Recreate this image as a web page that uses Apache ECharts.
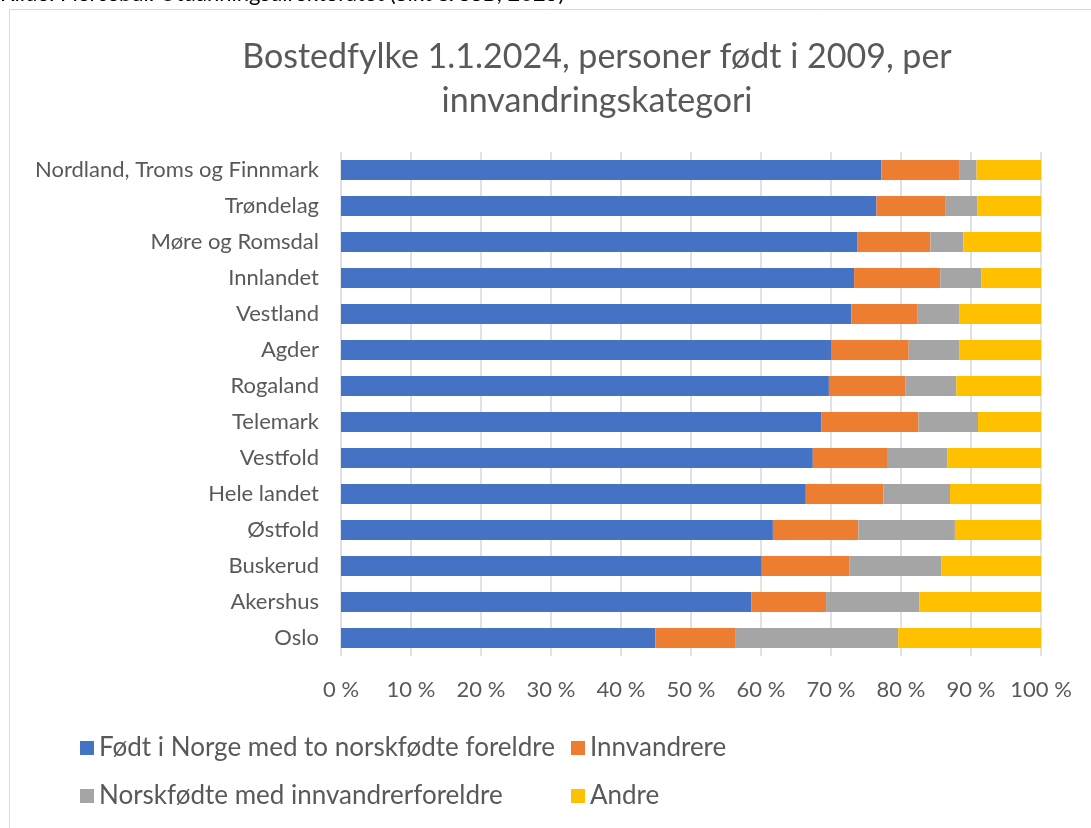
<!DOCTYPE html>
<html>
<head>
<meta charset="utf-8">
<style>
  html, body { margin: 0; padding: 0; background: #fff; }
  #main { width: 1091px; height: 828px; }
</style>
<script src="https://cdn.jsdelivr.net/npm/echarts@6/dist/echarts.min.js"></script>
</head>
<body>
<div id="main"></div>
<script>
// fylker, fra toppen og ned
const fylker = ['Nordland, Troms og Finnmark', 'Trøndelag', 'Møre og Romsdal', 'Innlandet', 'Vestland',
  'Agder', 'Rogaland', 'Telemark', 'Vestfold', 'Hele landet', 'Østfold', 'Buskerud', 'Akershus', 'Oslo']

// andel i prosent, lest av figuren
const norskfodteForeldre = [77.2, 76.5, 73.8, 73.3, 72.9, 70.0, 69.7, 68.6, 67.4, 66.4, 61.7, 60.1, 58.6, 44.9]
const innvandrere = [11.1, 9.8, 10.4, 12.3, 9.4, 11.1, 10.9, 13.9, 10.6, 11.1, 12.2, 12.5, 10.7, 11.5]
const innvandrerforeldre = [2.5, 4.6, 4.7, 5.9, 6.0, 7.2, 7.3, 8.5, 8.6, 9.5, 13.8, 13.2, 13.3, 23.2]
const andre = [9.2, 9.1, 11.1, 8.5, 11.7, 11.7, 12.1, 9.0, 13.4, 13.0, 12.3, 14.2, 17.4, 20.4]

const seriesNames = ['Født i Norge med to norskfødte foreldre', 'Innvandrere', 'Norskfødte med innvandrerforeldre', 'Andre']
const colors = ['#4472c4', '#ed7d31', '#a5a5a5', '#ffc000']

const font = 'Lato, "Open Sans", sans-serif'
const textColor = '#595959'

let chart = echarts.init(document.getElementById('main'))

let values = [norskfodteForeldre, innvandrere, innvandrerforeldre, andre]
let series = seriesNames.map((name, i) => ({
  name: name,
  type: 'bar',
  stack: 'total',
  barWidth: 20,
  itemStyle: { color: colors[i] },
  emphasis: { disabled: true },
  data: values[i]
}))

let legendText = { fontFamily: font, fontSize: 26, color: textColor }

let option = {
  animation: false,
  color: colors,
  textStyle: { fontFamily: font },
  title: {
    text: 'Bostedfylke 1.1.2024, personer født i 2009, per\ninnvandringskategori',
    left: 592,
    top: 30,
    textAlign: 'center',
    textStyle: { fontFamily: font, fontSize: 34, fontWeight: 'normal', color: textColor, lineHeight: 44 }
  },
  graphic: [
    {
      type: 'rect',
      shape: { x: 9.5, y: 9.5, width: 1200, height: 900 },
      style: { fill: 'none', stroke: '#d9d9d9', lineWidth: 1 },
      silent: true
    },
    {
      type: 'text',
      left: 0,
      top: -17,
      style: { text: 'Kilde: Fiercebul: Utdanningsdirektoratet (Sikt & SSB, 2025)', font: '22px ' + font, fill: '#000' },
      silent: true
    }
  ],
  legend: [
    {
      data: [seriesNames[0], seriesNames[2]],
      orient: 'vertical',
      left: 75,
      top: 730,
      itemGap: 22,
      itemWidth: 14,
      itemHeight: 14,
      icon: 'rect',
      textStyle: legendText
    },
    {
      data: [seriesNames[1], seriesNames[3]],
      orient: 'vertical',
      left: 566,
      top: 730,
      itemGap: 22,
      itemWidth: 14,
      itemHeight: 14,
      icon: 'rect',
      textStyle: legendText
    }
  ],
  grid: { left: 341, right: 50, top: 152, height: 504 },
  xAxis: {
    type: 'value',
    min: 0,
    max: 100,
    interval: 10,
    axisLine: { show: false },
    axisTick: { show: false },
    axisLabel: { formatter: '{value} %', fontSize: 22, color: textColor, fontFamily: font, margin: 23 },
    splitLine: { lineStyle: { color: '#d9d9d9', width: 1.5 } }
  },
  yAxis: {
    type: 'category',
    inverse: true,
    data: fylker,
    axisLine: { show: false },
    axisTick: { show: false },
    axisLabel: { fontSize: 22, color: textColor, fontFamily: font, margin: 22 }
  },
  series: series
}

chart.setOption(option)
</script>
</body>
</html>
